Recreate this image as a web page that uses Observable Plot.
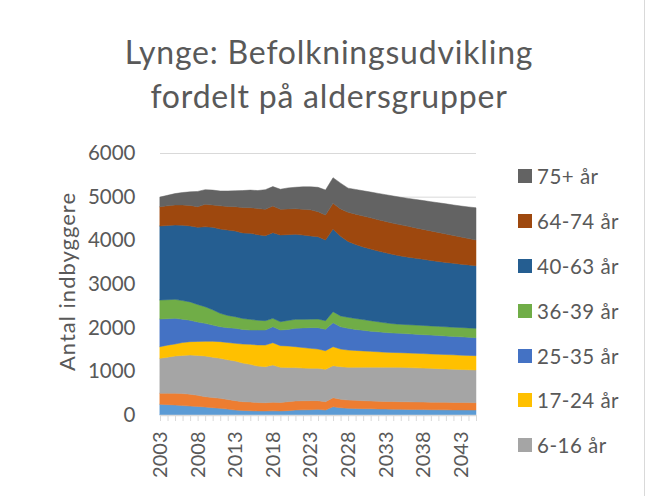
<!DOCTYPE html>
<html>
<head>
<meta charset="utf-8">
<script src="https://cdn.jsdelivr.net/npm/d3@7"></script>
<script src="https://cdn.jsdelivr.net/npm/@observablehq/plot@0.6"></script>
<style>
  html, body { margin: 0; padding: 0; background: #fff; }
  #wrap { position: relative; width: 651px; height: 496px; overflow: hidden; font-family: Lato, "Open Sans", sans-serif; color: #595959; }
  #title { position: absolute; left: 0; top: 0; width: 658px; text-align: center; font-size: 32px; letter-spacing: 0.8px; line-height: 44px; padding-top: 30px; }
  #chart { position: absolute; left: 0; top: 125px; }
  #legend { position: absolute; left: 518px; top: 154px; font-size: 20.5px; letter-spacing: 0.5px; }
  .row { display: flex; align-items: center; height: 44.8px; }
  .sw { width: 14px; height: 14px; margin-right: 5px; flex: none; }
  #border { position: absolute; left: 644px; top: 0; width: 1px; height: 496px; background: #d9d9d9; }
</style>
</head>
<body>
<div id="wrap">
  <div id="title">Lynge: Befolkningsudvikling<br>fordelt på aldersgrupper</div>
  <div id="chart"></div>
  <div id="legend"></div>
  <div id="border"></div>
</div>
<script>
const years = [2003,2004,2005,2006,2007,2008,2009,2010,2011,2012,2013,2014,2015,2016,2017,2018,2019,2020,2021,2022,2023,2024,2025,2026,2027,2028,2029,2030,2031,2032,2033,2034,2035,2036,2037,2038,2039,2040,2041,2042,2043,2044,2045];

const groups = ["0-2 år","3-5 år","6-16 år","17-24 år","25-35 år","36-39 år","40-63 år","64-74 år","75+ år"];
const colors = ["#5B9BD5","#ED7D31","#A5A5A5","#FFC000","#4472C4","#70AD47","#255E91","#9E480E","#636363"];

const age0_2   = [245,237,229,215,204,195,183,168,153,135,114,104,97,93,92,95,93,100,114,118,122,130,114,190,165,153,148,145,142,138,135,132,130,128,126,124,122,120,118,117,116,115,114];
const age3_5   = [252,260,268,275,274,255,237,232,229,220,214,201,201,192,190,195,192,205,207,208,206,198,191,206,195,190,187,183,180,178,177,176,175,174,173,172,172,172,172,171,170,169,168];
const age6_16  = [801,828,854,875,896,915,931,925,916,910,909,885,862,835,825,855,807,785,764,749,741,741,741,734,745,749,758,767,774,780,783,786,787,784,781,778,774,770,766,762,758,753,749];
const age17_24 = [267,275,275,295,305,320,336,362,382,395,404,435,458,485,496,511,496,490,480,470,457,442,427,435,405,396,385,373,362,352,343,338,335,334,333,332,331,330,329,328,327,328,327];
const age25_35 = [633,605,587,535,491,445,412,373,342,340,344,335,328,341,343,366,358,380,420,450,474,489,489,549,510,497,482,472,462,457,452,446,443,440,437,434,431,428,425,422,419,415,413];
const age36_39 = [435,435,435,425,420,400,381,350,306,280,266,250,244,224,214,191,191,205,205,195,195,198,198,252,250,252,250,245,240,230,220,212,207,208,209,210,210,210,210,211,213,214,214];
const age40_63 = [1695,1700,1702,1725,1740,1768,1830,1890,1931,1955,1962,1960,1970,1960,1946,1962,1984,1965,1947,1930,1905,1885,1847,1893,1821,1738,1695,1665,1640,1620,1605,1585,1563,1547,1531,1515,1500,1485,1475,1464,1452,1443,1434];
const age64_74 = [442,450,459,464,470,472,514,510,531,540,557,580,588,600,604,611,589,590,588,590,600,573,573,588,629,666,695,707,715,718,717,715,715,705,695,685,676,666,651,636,622,605,588];
const age75p   = [220,240,261,286,310,350,336,340,340,355,365,390,402,410,450,444,460,480,490,515,525,558,572,587,590,554,565,578,590,602,613,625,630,640,650,660,669,679,689,699,708,723,738];

const xTicks = [2003,2008,2013,2018,2023,2028,2033,2038,2043];
const yTicks = [0,1000,2000,3000,4000,5000,6000];
const yLabel = "Antal indbyggere";
const legendShown = ["75+ år","64-74 år","40-63 år","36-39 år","25-35 år","17-24 år","6-16 år"];

const series = [age0_2, age3_5, age6_16, age17_24, age25_35, age36_39, age40_63, age64_74, age75p];
const data = series.flatMap((vals, gi) => vals.map((v, i) => ({year: years[i], group: groups[gi], value: v})));

const chart = Plot.plot({
  width: 651,
  height: 371,
  marginLeft: 160,
  marginRight: 175,
  marginTop: 28,
  marginBottom: 81,
  style: {fontFamily: "Lato, 'Open Sans', sans-serif", color: "#595959", background: "transparent"},
  x: {type: "linear", domain: [2003, 2045]},
  y: {domain: [0, 6000]},
  color: {domain: groups, range: colors},
  marks: [
    Plot.gridY(yTicks, {stroke: "#d9d9d9", strokeOpacity: 1}),
    Plot.areaY(data, {x: "year", y: "value", fill: "group", z: "group", order: groups, stroke: "group", strokeWidth: 0.5}),
    Plot.ruleY([0], {stroke: "#d9d9d9", strokeWidth: 1.3}),
    Plot.axisX(years, {tickSize: 6, text: null, stroke: "#d9d9d9", strokeOpacity: 1, label: null}),
    Plot.axisX(xTicks, {tickSize: 0, tickPadding: 16, tickRotate: -90, tickFormat: d => String(d), fontSize: 20, fill: "#595959", label: null}),
    Plot.axisY(yTicks, {tickSize: 0, tickPadding: 25, tickFormat: d => String(d), fontSize: 20.5, fill: "#595959", label: null}),
    Plot.text([yLabel], {frameAnchor: "left", textAnchor: "middle", dx: -93, dy: -3, rotate: -90, fontSize: 22, fill: "#595959"})
  ]
});
d3.select(chart).selectAll("text").filter(function() { return this.textContent === yLabel; }).style("letter-spacing", "1px");
document.getElementById("chart").appendChild(chart);

const legend = document.getElementById("legend");
for (const g of legendShown) {
  const row = document.createElement("div");
  row.className = "row";
  const sw = document.createElement("div");
  sw.className = "sw";
  sw.style.background = colors[groups.indexOf(g)];
  const t = document.createElement("span");
  t.textContent = g;
  row.appendChild(sw);
  row.appendChild(t);
  legend.appendChild(row);
}
</script>
</body>
</html>
